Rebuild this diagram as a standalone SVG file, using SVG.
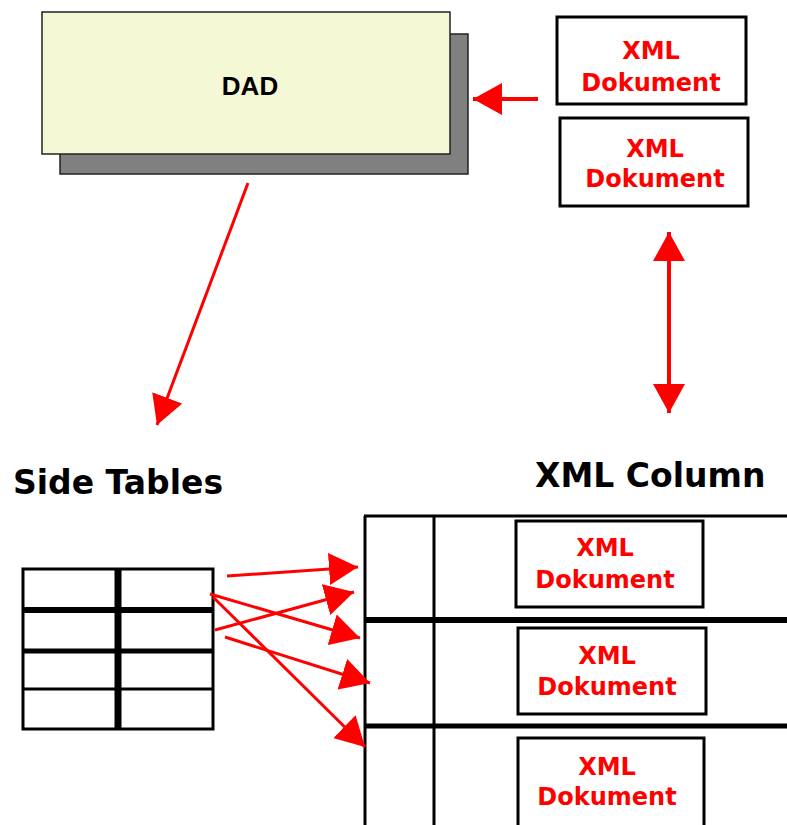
<svg xmlns="http://www.w3.org/2000/svg" width="787" height="825" viewBox="0 0 787 825">
<style>
.box{fill:#fff;stroke:#000;stroke-width:3}
.doc{font-family:"DejaVu Sans",Verdana,sans-serif;font-weight:bold;font-size:24px;fill:#f00;text-anchor:middle}
.title{font-family:"DejaVu Sans",Verdana,sans-serif;font-weight:bold;font-size:33px;fill:#000}
.ln{stroke:#000;fill:none}
.arr{stroke:#f00;fill:none;marker-end:url(#ah)}
</style>
<defs>
<marker id="ah" markerUnits="userSpaceOnUse" markerWidth="30" markerHeight="32" refX="29" refY="16" orient="auto-start-reverse">
<path d="M0,0 L29,16 L0,32 Z" fill="#f00"/>
</marker>
</defs>
<rect width="787" height="825" fill="#fff"/>
<g id="dad">
<rect x="60" y="34" width="408" height="140" fill="#808080" stroke="#222" stroke-width="1.5"/>
<rect x="42" y="12" width="408" height="142" fill="#F5F8D5" stroke="#222" stroke-width="1.5"/>
<text x="250" y="95" text-anchor="middle" font-family="Liberation Sans,Arial,sans-serif" font-weight="bold" font-size="26">DAD</text>
</g>
<g id="xmldoc1">
<rect class="box" x="557" y="17" width="189" height="87"/>
<text class="doc" x="651" y="59">XML</text>
<text class="doc" x="651" y="91">Dokument</text>
</g>
<g id="xmldoc2">
<rect class="box" x="560" y="118" width="188" height="88"/>
<text class="doc" x="655" y="157">XML</text>
<text class="doc" x="655" y="187">Dokument</text>
</g>
<g id="sidetables">
<text class="title" x="13" y="494">Side Tables</text>
<rect class="box" x="23" y="569" width="190" height="160"/>
<line class="ln" x1="118" y1="569" x2="118" y2="729" stroke-width="7"/>
<line class="ln" x1="23" y1="610" x2="213" y2="610" stroke-width="6"/>
<line class="ln" x1="23" y1="651" x2="213" y2="651" stroke-width="5"/>
<line class="ln" x1="23" y1="689" x2="213" y2="689" stroke-width="3"/>
</g>
<g id="xmlcolumn">
<text class="title" x="535" y="487">XML Column</text>
<line class="ln" x1="364" y1="516" x2="787" y2="516" stroke-width="3"/>
<line class="ln" x1="365" y1="516" x2="365" y2="825" stroke-width="3"/>
<line class="ln" x1="434" y1="516" x2="434" y2="825" stroke-width="3"/>
<line class="ln" x1="364" y1="620" x2="787" y2="620" stroke-width="6"/>
<line class="ln" x1="364" y1="726" x2="787" y2="726" stroke-width="5"/>
</g>
<g id="coldoc1">
<rect class="box" x="516" y="521" width="187" height="86"/>
<text class="doc" x="605" y="556">XML</text>
<text class="doc" x="605" y="588">Dokument</text>
</g>
<g id="coldoc2">
<rect class="box" x="518" y="628" width="188" height="86"/>
<text class="doc" x="607" y="664">XML</text>
<text class="doc" x="607" y="695">Dokument</text>
</g>
<g id="coldoc3">
<rect class="box" x="518" y="738" width="186" height="95"/>
<text class="doc" x="607" y="775">XML</text>
<text class="doc" x="607" y="805">Dokument</text>
</g>
<g id="connectors">
<line class="arr" x1="538" y1="99" x2="473" y2="99" stroke-width="4"/>
<line class="arr" x1="248" y1="183" x2="157" y2="425" stroke-width="3"/>
<line class="arr" x1="669" y1="232" x2="669" y2="413" stroke-width="4" style="marker-start:url(#ah)"/>
<line class="arr" x1="227" y1="576" x2="358" y2="567" stroke-width="3"/>
<line class="arr" x1="210" y1="594" x2="360" y2="638" stroke-width="3"/>
<line class="arr" x1="215" y1="630" x2="354" y2="592" stroke-width="3"/>
<line class="arr" x1="225" y1="637" x2="370" y2="683" stroke-width="3"/>
<line class="arr" x1="213" y1="597" x2="365" y2="747" stroke-width="3"/>
</g>
</svg>
